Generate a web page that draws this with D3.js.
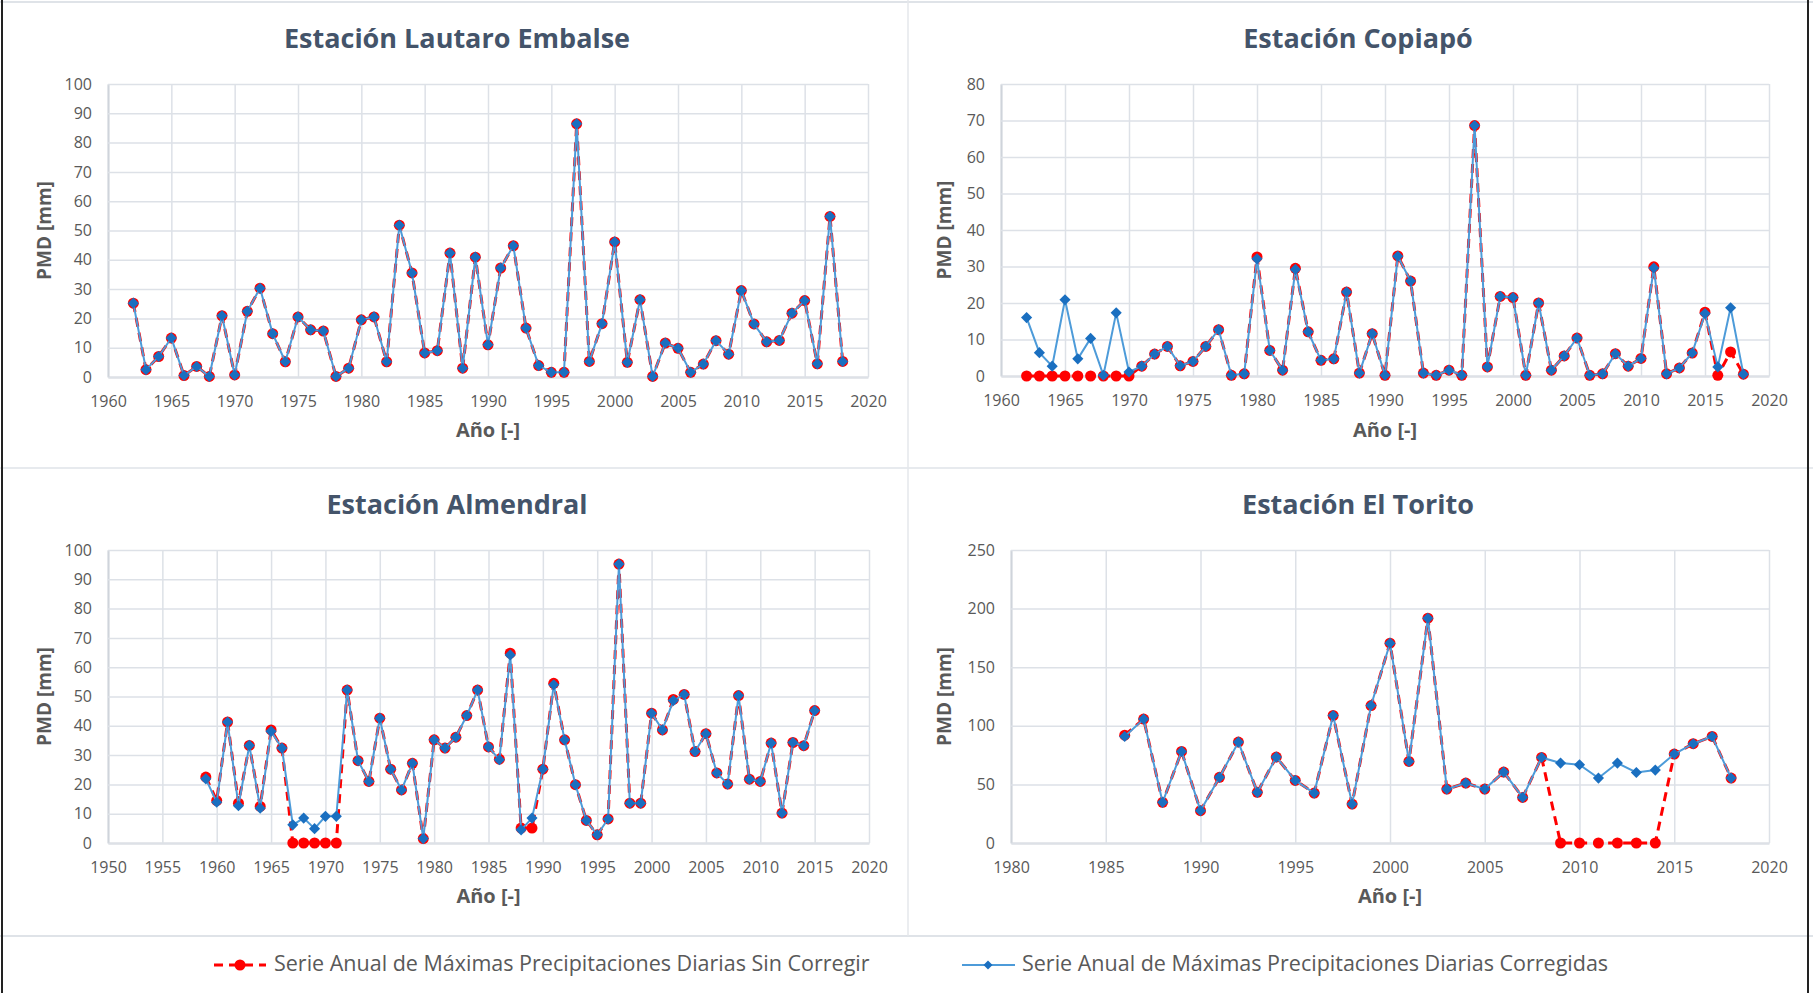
<!DOCTYPE html>
<html>
<head>
<meta charset="utf-8">
<script src="https://cdn.jsdelivr.net/npm/d3@7"></script>
<style>
  body { margin: 0; background: #fff; }
  svg { display: block; font-family: "Open Sans", "Noto Sans", sans-serif; }
</style>
</head>
<body>
<svg id="chart"></svg>
<script>
// ---- data ----
const seriesNames = [
  "Serie Anual de Máximas Precipitaciones Diarias Sin Corregir",
  "Serie Anual de Máximas Precipitaciones Diarias Corregidas"
];

// Estación Lautaro Embalse (1962-2018)
const lautaroFirstYear = 1962;
const lautaroRaw  = [25.2, 2.5, 7, 13.3, 0.5, 3.6, 0.2, 20.9, 0.7, 22.4, 30.3, 14.8, 5.2, 20.5, 16.1, 15.7, 0.2, 3.0, 19.5, 20.5,
                     5.2, 51.8, 35.5, 8.2, 9.0, 42.3, 3.0, 40.9, 11.0, 37.2, 44.8, 16.7, 3.9, 1.6, 1.6, 86.4, 5.3, 18.2, 46.1, 5.0,
                     26.4, 0.2, 11.6, 9.8, 1.6, 4.4, 12.4, 7.8, 29.5, 18.1, 12.0, 12.5, 21.8, 26.1, 4.5, 54.8, 5.3];
const lautaroCorr = [25.2, 2.5, 7, 13.3, 0.5, 3.6, 0.2, 20.9, 0.7, 22.4, 30.3, 14.8, 5.2, 20.5, 16.1, 15.7, 0.2, 3.0, 19.5, 20.5,
                     5.2, 51.8, 35.5, 8.2, 9.0, 42.3, 3.0, 40.9, 11.0, 37.2, 44.8, 16.7, 3.9, 1.6, 1.6, 86.4, 5.3, 18.2, 46.1, 5.0,
                     26.4, 0.2, 11.6, 9.8, 1.6, 4.4, 12.4, 7.8, 29.5, 18.1, 12.0, 12.5, 21.8, 26.1, 4.5, 54.8, 5.3];

// Estación Copiapó (1962-2018)
const copiapoFirstYear = 1962;
const copiapoRaw  = [0, 0, 0, 0, 0, 0, 0, 0, 0, 2.7, 6.0, 8.1, 2.8, 4.0, 8.1, 12.7, 0.2, 0.6, 32.6, 7.0,
                     1.6, 29.5, 12.1, 4.3, 4.7, 23.0, 0.8, 11.6, 0.2, 32.9, 26.0, 0.8, 0.2, 1.6, 0.2, 68.6, 2.5, 21.8, 21.5, 0.2,
                     20.0, 1.6, 5.5, 10.4, 0.2, 0.6, 6.1, 2.7, 4.8, 29.9, 0.6, 2.2, 6.3, 17.5, 0.2, 6.6, 0.5];
const copiapoCorr = [16.0, 6.4, 2.7, 20.9, 4.7, 10.3, 0.2, 17.3, 1.1, 2.7, 6.0, 8.1, 2.8, 4.0, 8.1, 12.7, 0.2, 0.6, 32.1, 7.0,
                     1.6, 29.2, 12.1, 4.3, 4.7, 23.0, 0.8, 11.6, 0.2, 32.8, 26.0, 0.8, 0.2, 1.6, 0.2, 68.6, 2.5, 21.8, 21.5, 0.2,
                     20.0, 1.6, 5.5, 10.4, 0.2, 0.6, 6.1, 2.7, 4.8, 29.6, 0.6, 2.2, 6.3, 17.1, 2.5, 18.7, 0.5];

// Estación Almendral (1959-2015)
const almendralFirstYear = 1959;
const almendralRaw  = [22.5, 14.5, 41.3, 13.6, 33.3, 12.5, 38.6, 32.4, 0, 0, 0, 0, 0, 52.2, 28.1, 21.0, 42.6, 25.2, 18.1, 27.2,
                       1.5, 35.2, 32.4, 36.1, 43.5, 52.2, 32.8, 28.6, 64.8, 5.1, 5.1, 25.2, 54.5, 35.2, 19.9, 7.7, 2.8, 8.2, 95.2, 13.6,
                       13.6, 44.3, 38.6, 49.0, 50.7, 31.2, 37.3, 23.9, 20.1, 50.3, 21.8, 21.0, 34.1, 10.2, 34.3, 33.2, 45.2];
const almendralCorr = [21.9, 13.9, 41.3, 12.7, 33.3, 11.9, 38.1, 32.4, 6.2, 8.5, 4.9, 9.1, 9.1, 52.2, 28.1, 21.0, 42.6, 25.2, 18.1, 27.2,
                       1.5, 35.2, 32.4, 36.1, 43.5, 52.2, 32.8, 28.4, 64.2, 4.5, 8.5, 25.2, 54.0, 35.2, 19.9, 7.7, 2.8, 8.2, 95.2, 13.6,
                       13.6, 44.3, 38.6, 48.6, 50.7, 31.2, 37.3, 23.9, 20.1, 50.3, 21.8, 21.0, 34.1, 10.2, 34.3, 33.2, 45.2];

// Estación El Torito (1986-2018)
const toritoFirstYear = 1986;
const toritoRaw  = [92.0, 105.7, 34.7, 78.1, 27.6, 56.0, 86.1, 43.2, 73.3, 53.4, 42.6, 108.8, 33.2, 117.3, 170.5, 69.6, 191.8, 46.0, 51.1, 46.0,
                    60.5, 38.9, 73.0, 0, 0, 0, 0, 0, 0, 75.9, 84.7, 90.9, 55.4];
const toritoCorr = [90.9, 105.7, 34.7, 78.1, 27.6, 56.0, 86.1, 43.2, 73.3, 53.4, 42.6, 108.8, 33.2, 117.3, 170.5, 69.6, 191.8, 46.0, 51.1, 46.0,
                    60.5, 38.9, 73.0, 68.2, 66.8, 55.4, 68.2, 60.2, 62.2, 75.9, 84.7, 90.9, 55.4];

// ---- layout ----
const W = 1813, H = 993;
const RED = "#ff0000", BLUE_LINE = "#4d9bd9", BLUE_MARK = "#1a6fc0";
const GRID = "#dde1e7", TXT = "#595959", TITLE = "#44546a";

const svg = d3.select("#chart").attr("width", W).attr("height", H);
svg.append("rect").attr("width", W).attr("height", H).attr("fill", "#fff");

// frame / panel separators
const frame = svg.append("g");
frame.append("line").attr("x1", 0).attr("x2", W).attr("y1", 2).attr("y2", 2).attr("stroke", "#dfe3e8").attr("stroke-width", 2);
frame.append("line").attr("x1", 0).attr("x2", W).attr("y1", 468).attr("y2", 468).attr("stroke", "#dfe3e8").attr("stroke-width", 1.5);
frame.append("line").attr("x1", 0).attr("x2", W).attr("y1", 936).attr("y2", 936).attr("stroke", "#dfe3e8").attr("stroke-width", 2);
frame.append("line").attr("x1", 908).attr("x2", 908).attr("y1", 0).attr("y2", 936).attr("stroke", "#e4e7eb").attr("stroke-width", 1.5);
frame.append("line").attr("x1", 2).attr("x2", 2).attr("y1", 0).attr("y2", H).attr("stroke", "#222").attr("stroke-width", 2);
frame.append("line").attr("x1", 1808).attr("x2", 1808).attr("y1", 0).attr("y2", H).attr("stroke", "#222").attr("stroke-width", 2);

const panels = [
  { title: "Estación Lautaro Embalse", cx: 457, ty: 41, first: lautaroFirstYear, raw: lautaroRaw, corr: lautaroCorr,
    xDom: [1960, 2020], xr: [108, 868], yMax: 100, yStep: 10, yr: [377, 84], ytx: 46, xty: 432 },
  { title: "Estación Copiapó", cx: 1358, ty: 41, first: copiapoFirstYear, raw: copiapoRaw, corr: copiapoCorr,
    xDom: [1960, 2020], xr: [1001, 1769], yMax: 80, yStep: 10, yr: [376, 84], ytx: 946, xty: 432 },
  { title: "Estación Almendral", cx: 457, ty: 507, first: almendralFirstYear, raw: almendralRaw, corr: almendralCorr,
    xDom: [1950, 2020], xr: [108, 869], yMax: 100, yStep: 10, yr: [843, 550], ytx: 46, xty: 898 },
  { title: "Estación El Torito", cx: 1358, ty: 507, first: toritoFirstYear, raw: toritoRaw, corr: toritoCorr,
    xDom: [1980, 2020], xr: [1011, 1769], yMax: 250, yStep: 50, yr: [843, 550], ytx: 946, xty: 898 }
];

panels.forEach(p => {
  const g = svg.append("g");
  const x = d3.scaleLinear().domain(p.xDom).range(p.xr);
  const y = d3.scaleLinear().domain([0, p.yMax]).range(p.yr);
  const plotW = p.xr[1] - p.xr[0], plotH = p.yr[0] - p.yr[1];

  // title
  g.append("text").attr("x", p.cx).attr("y", p.ty).attr("text-anchor", "middle")
    .attr("dominant-baseline", "middle").attr("font-size", 27).attr("font-weight", "bold")
    .attr("fill", TITLE).text(p.title);

  // x axis with vertical grid
  const xa = g.append("g").attr("transform", "translate(0," + p.yr[0] + ")")
    .call(d3.axisBottom(x).tickValues(d3.range(p.xDom[0], p.xDom[1] + 1, 5))
      .tickFormat(d3.format("d")).tickSizeInner(-plotH).tickSizeOuter(0).tickPadding(19));
  // y axis with horizontal grid
  const ya = g.append("g").attr("transform", "translate(" + p.xr[0] + ",0)")
    .call(d3.axisLeft(y).tickValues(d3.range(0, p.yMax + 1, p.yStep))
      .tickSizeInner(-plotW).tickSizeOuter(0).tickPadding(16));
  [xa, ya].forEach(a => {
    a.selectAll(".tick line").attr("stroke", GRID).attr("stroke-width", 1.5);
    a.select(".domain").attr("stroke", "#cfd4db").attr("stroke-width", 2);
    a.selectAll("text").attr("fill", TXT).attr("font-size", 16)
      .attr("font-family", "'Open Sans', 'Noto Sans', sans-serif");
  });

  // axis titles
  g.append("text").attr("x", (p.xr[0] + p.xr[1]) / 2).attr("y", p.xty).attr("text-anchor", "middle")
    .attr("dominant-baseline", "middle").attr("font-size", 20).attr("font-weight", "bold")
    .attr("fill", TXT).text("Año [-]");
  g.append("text").attr("transform", "translate(" + p.ytx + "," + (p.yr[0] + p.yr[1]) / 2 + ") rotate(-90)")
    .attr("text-anchor", "middle").attr("dominant-baseline", "middle").attr("font-size", 19)
    .attr("font-weight", "bold").attr("fill", TXT).text("PMD [mm]");

  const rawPts = p.raw.map((v, i) => [p.first + i, v]);
  const corrPts = p.corr.map((v, i) => [p.first + i, v]);
  const line = d3.line().x(d => x(d[0])).y(d => y(d[1]));

  // uncorrected series: red dashed + circles
  g.append("path").datum(rawPts).attr("d", line).attr("fill", "none")
    .attr("stroke", RED).attr("stroke-width", 3).attr("stroke-dasharray", "9,6");
  g.selectAll("circle.raw").data(rawPts).enter().append("circle").attr("class", "raw")
    .attr("cx", d => x(d[0])).attr("cy", d => y(d[1])).attr("r", 5.5).attr("fill", RED);

  // corrected series: blue line + diamonds
  g.append("path").datum(corrPts).attr("d", line).attr("fill", "none")
    .attr("stroke", BLUE_LINE).attr("stroke-width", 2);
  g.selectAll("path.corr").data(corrPts).enter().append("path").attr("class", "corr")
    .attr("d", d3.symbol(d3.symbolSquare, 62))
    .attr("transform", d => "translate(" + x(d[0]) + "," + y(d[1]) + ") rotate(45)")
    .attr("fill", BLUE_MARK);
});

// legend
const leg = svg.append("g");
const ly = 965;
leg.append("line").attr("x1", 214).attr("x2", 266).attr("y1", ly).attr("y2", ly)
  .attr("stroke", RED).attr("stroke-width", 3).attr("stroke-dasharray", "9,6");
leg.append("circle").attr("cx", 240).attr("cy", ly).attr("r", 5.5).attr("fill", RED);
leg.append("text").attr("x", 274).attr("y", ly).attr("dominant-baseline", "middle")
  .attr("font-size", 21.5).attr("fill", TXT).text(seriesNames[0]);

leg.append("line").attr("x1", 962).attr("x2", 1015).attr("y1", ly).attr("y2", ly)
  .attr("stroke", BLUE_LINE).attr("stroke-width", 2);
leg.append("path").attr("d", d3.symbol(d3.symbolSquare, 40))
  .attr("transform", "translate(988," + ly + ") rotate(45)").attr("fill", BLUE_MARK);
leg.append("text").attr("x", 1022).attr("y", ly).attr("dominant-baseline", "middle")
  .attr("font-size", 21.5).attr("fill", TXT).text(seriesNames[1]);
</script>
</body>
</html>
